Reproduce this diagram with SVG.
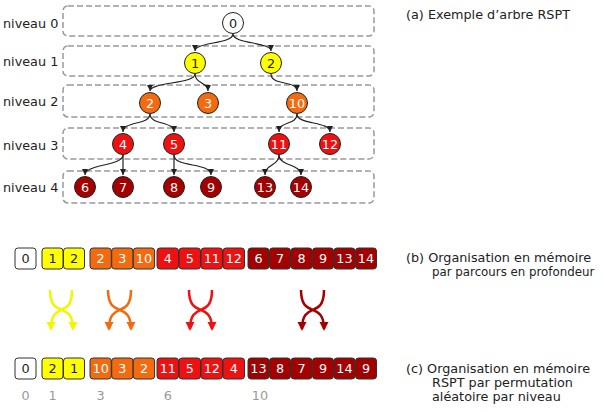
<svg xmlns="http://www.w3.org/2000/svg" width="603" height="412" viewBox="0 0 603 412">
<defs>
<style>
text{font-family:"DejaVu Sans","Liberation Sans",sans-serif;font-size:12.8px;fill:#222}
.lvl{fill:none;stroke:#999;stroke-width:1.5;stroke-dasharray:6,3}
.n circle{stroke:#222;stroke-width:1}
.n text,.c text{text-anchor:middle;fill:#fff}
.w circle{fill:#fff}.w text{fill:#222}
.y circle{fill:#ffff00}.y text{fill:#222}
.o circle{fill:#f26b10}
.r circle{fill:#ee1111}
.d circle{fill:#a30000}
.c rect{stroke:#333;stroke-width:1}
.c.w rect{fill:#fff}.c.y rect{fill:#ffff00}.c.o rect{fill:#f26b10}.c.r rect{fill:#ee1111}.c.d rect{fill:#a30000}
.c.w text,.c.y text{fill:#222}
.e path{fill:none;stroke:#222;stroke-width:1.2;marker-end:url(#ah)}
.x path{fill:none;stroke-width:2.5}
.idx{fill:#999;text-anchor:middle}
</style>
<marker id="ah" markerWidth="8" markerHeight="8" refX="6" refY="3" orient="auto" markerUnits="userSpaceOnUse"><path d="M0,0 L6,3 L0,6 z" fill="#222"/></marker>
<marker id="ay" markerWidth="10" markerHeight="10" refX="7" refY="4.5" orient="auto" markerUnits="userSpaceOnUse"><path d="M0,0 L9,4.5 L0,9 z" fill="#f5f500"/></marker>
<marker id="ao" markerWidth="10" markerHeight="10" refX="7" refY="4.5" orient="auto" markerUnits="userSpaceOnUse"><path d="M0,0 L9,4.5 L0,9 z" fill="#f26b10"/></marker>
<marker id="ar" markerWidth="10" markerHeight="10" refX="7" refY="4.5" orient="auto" markerUnits="userSpaceOnUse"><path d="M0,0 L9,4.5 L0,9 z" fill="#ee1111"/></marker>
<marker id="ad" markerWidth="10" markerHeight="10" refX="7" refY="4.5" orient="auto" markerUnits="userSpaceOnUse"><path d="M0,0 L9,4.5 L0,9 z" fill="#a30000"/></marker>
</defs>
<rect width="603" height="412" fill="#fff"/>

<g id="levels">
<rect class="lvl" x="63" y="6" width="311" height="30" rx="5"/>
<rect class="lvl" x="63" y="46" width="311" height="30" rx="5"/>
<rect class="lvl" x="63" y="85" width="311" height="32" rx="5"/>
<rect class="lvl" x="63" y="128" width="311" height="31" rx="5"/>
<rect class="lvl" x="63" y="171" width="311" height="32" rx="5"/>
<text x="3" y="27.5">niveau 0</text>
<text x="3" y="65.5">niveau 1</text>
<text x="3" y="105.5">niveau 2</text>
<text x="3" y="149.5">niveau 3</text>
<text x="3" y="191.5">niveau 4</text>
</g>

<g id="connectors" class="e">
<path d="M233,34 C233,44 195,42 195,51"/>
<path d="M233,34 C233,44 271,42 271,51"/>
<path d="M195,74 C195,84 150,82 150,91"/>
<path d="M195,74 C195,84 208,82 208,91"/>
<path d="M271,74 C271,86 297,80 297,91"/>
<path d="M150,114 C150,125 123,121 123,132"/>
<path d="M150,114 C150,125 174,121 174,132"/>
<path d="M297,114 C297,125 279,121 279,132"/>
<path d="M297,114 C297,125 330,121 330,132"/>
<path d="M123,155 C123,166 85,164 85,175"/>
<path d="M123,155 L123,175"/>
<path d="M174,155 L174,175"/>
<path d="M174,155 C174,168 211,162 211,175"/>
<path d="M279,155 C279,166 265,164 265,175"/>
<path d="M279,155 C279,166 301,164 301,175"/>
</g>

<g id="node0" class="n w"><circle cx="233" cy="23" r="10.5"/><text x="233" y="27.5">0</text></g>
<g id="node1" class="n y"><circle cx="195" cy="63" r="10.5"/><text x="195" y="67.5">1</text></g>
<g id="node2a" class="n y"><circle cx="271" cy="63" r="10.5"/><text x="271" y="67.5">2</text></g>
<g id="node2b" class="n o"><circle cx="150" cy="103" r="10.5"/><text x="150" y="107.5">2</text></g>
<g id="node3" class="n o"><circle cx="208" cy="103" r="10.5"/><text x="208" y="107.5">3</text></g>
<g id="node10" class="n o"><circle cx="297" cy="103" r="10.5"/><text x="297" y="107.5">10</text></g>
<g id="node4" class="n r"><circle cx="123" cy="144" r="10.5"/><text x="123" y="148.5">4</text></g>
<g id="node5" class="n r"><circle cx="174" cy="144" r="10.5"/><text x="174" y="148.5">5</text></g>
<g id="node11" class="n r"><circle cx="279" cy="144" r="10.5"/><text x="279" y="148.5">11</text></g>
<g id="node12" class="n r"><circle cx="330" cy="144" r="10.5"/><text x="330" y="148.5">12</text></g>
<g id="node6" class="n d"><circle cx="85" cy="187" r="10.5"/><text x="85" y="191.5">6</text></g>
<g id="node7" class="n d"><circle cx="123" cy="187" r="10.5"/><text x="123" y="191.5">7</text></g>
<g id="node8" class="n d"><circle cx="174" cy="187" r="10.5"/><text x="174" y="191.5">8</text></g>
<g id="node9" class="n d"><circle cx="211" cy="187" r="10.5"/><text x="211" y="191.5">9</text></g>
<g id="node13" class="n d"><circle cx="265" cy="187" r="10.5"/><text x="265" y="191.5">13</text></g>
<g id="node14" class="n d"><circle cx="301" cy="187" r="10.5"/><text x="301" y="191.5">14</text></g>

<text x="406" y="19">(a) Exemple d’arbre RSPT</text>

<g id="rowB">
<g class="c w"><rect x="15" y="248" width="21" height="21" rx="3"/><text x="25.5" y="263">0</text></g>
<g class="c y"><rect x="42" y="248" width="21" height="21" rx="3"/><text x="52.5" y="263">1</text>
<rect x="63.5" y="248" width="21" height="21" rx="3"/><text x="74" y="263">2</text></g>
<g class="c o"><rect x="90" y="248" width="21.3" height="21" rx="3"/><text x="100.7" y="263">2</text>
<rect x="111.7" y="248" width="21.3" height="21" rx="3"/><text x="122.3" y="263">3</text>
<rect x="133.3" y="248" width="21.3" height="21" rx="3"/><text x="144" y="263">10</text></g>
<g class="c r"><rect x="157" y="248" width="21.5" height="21" rx="3"/><text x="167.8" y="263">4</text>
<rect x="179" y="248" width="21.5" height="21" rx="3"/><text x="189.8" y="263">5</text>
<rect x="201" y="248" width="21.5" height="21" rx="3"/><text x="211.8" y="263">11</text>
<rect x="223" y="248" width="21.5" height="21" rx="3"/><text x="233.8" y="263">12</text></g>
<g class="c d"><rect x="248" y="248" width="21" height="21" rx="3"/><text x="258.5" y="263">6</text>
<rect x="269.5" y="248" width="21" height="21" rx="3"/><text x="280" y="263">7</text>
<rect x="291" y="248" width="21" height="21" rx="3"/><text x="301.5" y="263">8</text>
<rect x="312.5" y="248" width="21" height="21" rx="3"/><text x="323" y="263">9</text>
<rect x="334" y="248" width="21" height="21" rx="3"/><text x="344.5" y="263">13</text>
<rect x="355.5" y="248" width="21" height="21" rx="3"/><text x="366" y="263">14</text></g>
</g>

<text x="406" y="262">(b) Organisation en mémoire</text>
<text x="432" y="276" style="font-size:11.8px">par parcours en profondeur</text>

<g id="swaps" class="x">
<path d="M50,290 C50,320 73,300 73,329" stroke="#f5f500" marker-end="url(#ay)"/>
<path d="M72,290 C72,320 51,300 51,329" stroke="#f5f500" marker-end="url(#ay)"/>
<path d="M108,290 C108,320 131,300 131,329" stroke="#f26b10" marker-end="url(#ao)"/>
<path d="M131,290 C131,320 109,300 109,329" stroke="#f26b10" marker-end="url(#ao)"/>
<path d="M189,290 C189,320 212,300 212,329" stroke="#ee1111" marker-end="url(#ar)"/>
<path d="M212,290 C212,320 190,300 190,329" stroke="#ee1111" marker-end="url(#ar)"/>
<path d="M301,290 C301,320 324,300 324,329" stroke="#a30000" marker-end="url(#ad)"/>
<path d="M324,290 C324,320 302,300 302,329" stroke="#a30000" marker-end="url(#ad)"/>
</g>

<g id="rowC">
<g class="c w"><rect x="15" y="358" width="21" height="21" rx="3"/><text x="25.5" y="373">0</text></g>
<g class="c y"><rect x="42" y="358" width="21" height="21" rx="3"/><text x="52.5" y="373">2</text>
<rect x="63.5" y="358" width="21" height="21" rx="3"/><text x="74" y="373">1</text></g>
<g class="c o"><rect x="90" y="358" width="21.3" height="21" rx="3"/><text x="100.7" y="373">10</text>
<rect x="111.7" y="358" width="21.3" height="21" rx="3"/><text x="122.3" y="373">3</text>
<rect x="133.3" y="358" width="21.3" height="21" rx="3"/><text x="144" y="373">2</text></g>
<g class="c r"><rect x="157" y="358" width="21.5" height="21" rx="3"/><text x="167.8" y="373">11</text>
<rect x="179" y="358" width="21.5" height="21" rx="3"/><text x="189.8" y="373">5</text>
<rect x="201" y="358" width="21.5" height="21" rx="3"/><text x="211.8" y="373">12</text>
<rect x="223" y="358" width="21.5" height="21" rx="3"/><text x="233.8" y="373">4</text></g>
<g class="c d"><rect x="248" y="358" width="21" height="21" rx="3"/><text x="258.5" y="373">13</text>
<rect x="269.5" y="358" width="21" height="21" rx="3"/><text x="280" y="373">8</text>
<rect x="291" y="358" width="21" height="21" rx="3"/><text x="301.5" y="373">7</text>
<rect x="312.5" y="358" width="21" height="21" rx="3"/><text x="323" y="373">9</text>
<rect x="334" y="358" width="21" height="21" rx="3"/><text x="344.5" y="373">14</text>
<rect x="355.5" y="358" width="21" height="21" rx="3"/><text x="366" y="373">9</text></g>
</g>

<g id="indices">
<text class="idx" x="25.5" y="400">0</text>
<text class="idx" x="52.5" y="400">1</text>
<text class="idx" x="100.7" y="400">3</text>
<text class="idx" x="167.8" y="400">6</text>
<text class="idx" x="260" y="400">10</text>
</g>

<text x="406" y="373">(c) Organisation en mémoire</text>
<text x="432" y="387">RSPT par permutation</text>
<text x="432" y="401">aléatoire par niveau</text>
</svg>
